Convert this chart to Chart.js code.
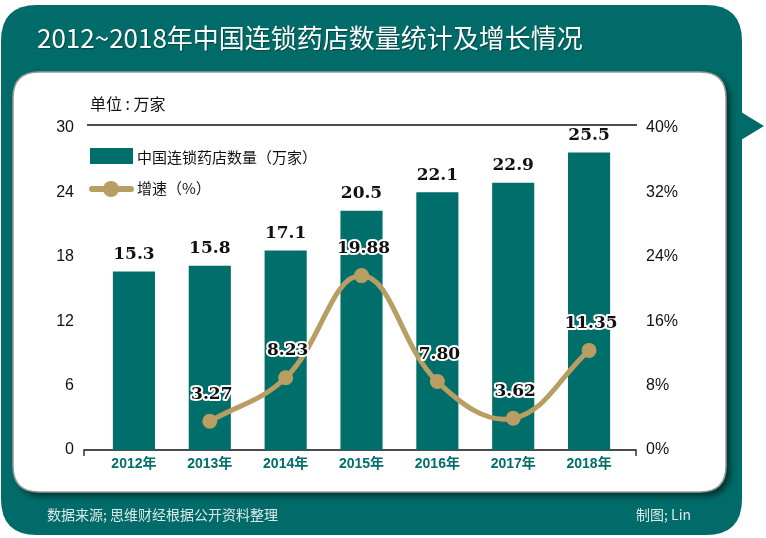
<!DOCTYPE html>
<html>
<head>
<meta charset="utf-8">
<script src="https://cdn.jsdelivr.net/npm/chart.js@4/dist/chart.umd.min.js"></script>
<style>
  html, body { margin: 0; padding: 0; background: #ffffff; }
  canvas { display: block; }
</style>
</head>
<body>
<canvas id="c" width="766" height="538"></canvas>
<script>
// ---- data ----
const titleText = "2012~2018年中国连锁药店数量统计及增长情况";
const unitText = "单位 : 万家";
const sourceText = "数据来源; 思维财经根据公开资料整理";
const creditText = "制图; Lin";
const categories = ["2012年", "2013年", "2014年", "2015年", "2016年", "2017年", "2018年"];
const storeCount = [15.3, 15.8, 17.1, 20.5, 22.1, 22.9, 25.5];
const storeLabels = ["15.3", "15.8", "17.1", "20.5", "22.1", "22.9", "25.5"];
const growthRate = [null, 3.27, 8.23, 19.88, 7.80, 3.62, 11.35];
const growthLabels = ["", "3.27", "8.23", "19.88", "7.80", "3.62", "11.35"];
const leftTicks = [0, 6, 12, 18, 24, 30];
const rightTicks = [0, 8, 16, 24, 32, 40];
const seriesNames = ["中国连锁药店数量（万家）", "增速（%）"];

const TEAL = "#006e6a";
const PANEL = "#006b68";
const GOLD = "#b99e63";
const CJK = "'Noto Sans CJK SC', 'Noto Sans', sans-serif";

function roundRect(ctx, x, y, w, h, r) {
  ctx.beginPath();
  ctx.moveTo(x + r, y);
  ctx.lineTo(x + w - r, y);
  ctx.quadraticCurveTo(x + w, y, x + w, y + r);
  ctx.lineTo(x + w, y + h - r);
  ctx.quadraticCurveTo(x + w, y + h, x + w - r, y + h);
  ctx.lineTo(x + r, y + h);
  ctx.quadraticCurveTo(x, y + h, x, y + h - r);
  ctx.lineTo(x, y + r);
  ctx.quadraticCurveTo(x, y, x + r, y);
  ctx.closePath();
}

const framePlugin = {
  id: 'frame',
  beforeDraw(chart) {
    const ctx = chart.ctx;
    ctx.save();
    ctx.fillStyle = '#ffffff';
    ctx.fillRect(0, 0, chart.width, chart.height);
    // teal panel
    ctx.fillStyle = PANEL;
    roundRect(ctx, 1, 5, 741, 530, 36);
    ctx.fill();
    // pointer triangle
    ctx.beginPath();
    ctx.moveTo(741, 112);
    ctx.lineTo(764, 126);
    ctx.lineTo(741, 140);
    ctx.closePath();
    ctx.fill();
    // title
    ctx.fillStyle = '#ffffff';
    ctx.font = "26px " + CJK;
    ctx.textBaseline = 'middle';
    ctx.textAlign = 'left';
    ctx.shadowColor = 'rgba(0,0,0,0.35)';
    ctx.shadowOffsetX = 1; ctx.shadowOffsetY = 1; ctx.shadowBlur = 1;
    ctx.fillText(titleText, 37, 38);
    ctx.shadowColor = 'transparent';
    // white box with shadow
    ctx.save();
    ctx.shadowColor = 'rgba(0,0,0,0.55)';
    ctx.shadowOffsetX = 4; ctx.shadowOffsetY = 4; ctx.shadowBlur = 6;
    ctx.fillStyle = '#ffffff';
    roundRect(ctx, 13, 72, 713, 420, 26);
    ctx.fill();
    ctx.restore();
    ctx.strokeStyle = '#9a9a9a';
    ctx.lineWidth = 1.5;
    roundRect(ctx, 13, 72, 713, 420, 26);
    ctx.stroke();
    // footer
    ctx.fillStyle = '#dce8e6';
    ctx.font = "14px " + CJK;
    ctx.textBaseline = 'middle';
    ctx.fillText(sourceText, 47, 515);
    ctx.fillText(creditText, 636, 515);
    ctx.restore();
  },
  beforeDatasetsDraw(chart) {
    const ctx = chart.ctx;
    const a = chart.chartArea;
    ctx.save();
    ctx.strokeStyle = '#111';
    ctx.lineWidth = 1.3;
    ctx.beginPath();
    ctx.moveTo(87, a.top - 3);
    ctx.lineTo(637, a.top - 3);
    ctx.stroke();
    ctx.beginPath();
    ctx.moveTo(84, a.bottom + 6);
    ctx.lineTo(84, a.bottom);
    ctx.lineTo(636, a.bottom);
    ctx.lineTo(636, a.bottom + 6);
    ctx.stroke();
    ctx.restore();
  },
  afterDraw(chart) {
    const ctx = chart.ctx;
    ctx.save();
    // unit label
    ctx.fillStyle = '#111';
    ctx.font = "16px " + CJK;
    ctx.textBaseline = 'middle';
    ctx.textAlign = 'left';
    ctx.fillText(unitText, 90, 104);
    // legend
    ctx.fillStyle = TEAL;
    ctx.fillRect(90, 148, 43, 16);
    ctx.strokeStyle = GOLD;
    ctx.lineWidth = 6;
    ctx.lineCap = 'round';
    ctx.beginPath();
    ctx.moveTo(92, 189);
    ctx.lineTo(131, 189);
    ctx.stroke();
    ctx.fillStyle = GOLD;
    ctx.beginPath();
    ctx.arc(111, 189, 8, 0, Math.PI * 2);
    ctx.fill();
    ctx.fillStyle = '#111';
    ctx.font = "15px " + CJK;
    ctx.fillText(chart.data.datasets[0].label, 137, 157);
    ctx.fillText(chart.data.datasets[1].label, 137, 188);
    // value labels
    ctx.font = "bold 17px 'DejaVu Serif', serif";
    ctx.textAlign = 'center';
    ctx.textBaseline = 'middle';
    ctx.lineJoin = 'round';
    const drawLabel = (txt, x, y) => {
      if (!txt) return;
      ctx.strokeStyle = '#ffffff';
      ctx.lineWidth = 4;
      ctx.strokeText(txt, x, y);
      ctx.fillStyle = '#111';
      ctx.fillText(txt, x, y);
    };
    const barMeta = chart.getDatasetMeta(0);
    barMeta.data.forEach((el, i) => drawLabel(storeLabels[i], el.x, el.y - 17));
    const lineMeta = chart.getDatasetMeta(1);
    lineMeta.data.forEach((el, i) => {
      if (growthRate[i] === null) return;
      drawLabel(growthLabels[i], el.x + 2, el.y - 27);
    });
    ctx.restore();
  }
};

new Chart(document.getElementById('c'), {
  data: {
    labels: categories,
    datasets: [
      {
        type: 'bar',
        label: seriesNames[0],
        data: storeCount,
        yAxisID: 'yBar',
        backgroundColor: TEAL,
        barPercentage: 0.555,
        categoryPercentage: 1.0,
        order: 1
      },
      {
        type: 'line',
        label: seriesNames[1],
        data: growthRate,
        yAxisID: 'yLine',
        borderColor: GOLD,
        backgroundColor: GOLD,
        borderWidth: 5,
        pointRadius: 7.5,
        pointHoverRadius: 7.5,
        pointBackgroundColor: GOLD,
        pointBorderWidth: 0,
        tension: 0.4,
        spanGaps: false,
        order: 0
      }
    ]
  },
  options: {
    responsive: false,
    animation: false,
    devicePixelRatio: 1,
    layout: { padding: { top: 128, left: 0, right: 0, bottom: 0 } },
    plugins: { legend: { display: false }, tooltip: { enabled: false } },
    scales: {
      x: {
        position: 'bottom',
        grid: { display: false, drawTicks: false },
        border: { display: false },
        ticks: { color: TEAL, padding: 6, font: { family: "'Liberation Sans', Arial, " + CJK, size: 14, weight: 'bold' } },
        afterFit(s) { s.height = 88; }
      },
      y: {
        position: 'left',
        min: 0, max: 30,
        afterBuildTicks(s) { s.ticks = leftTicks.map(v => ({ value: v })); },
        grid: { display: false, drawTicks: false },
        border: { display: false },
        ticks: { color: '#111', padding: 22, font: { family: "'Liberation Sans', Arial, sans-serif", size: 16 } },
        afterFit(s) { s.width = 96; }
      },
      y1: {
        position: 'right',
        min: 0, max: 40,
        afterBuildTicks(s) { s.ticks = rightTicks.map(v => ({ value: v })); },
        grid: { display: false, drawTicks: false },
        border: { display: false },
        ticks: { color: '#111', padding: 19, callback: v => v + '%', font: { family: "'Liberation Sans', Arial, sans-serif", size: 16 } },
        afterFit(s) { s.width = 139; }
      },
      yBar: { display: false, position: 'left', min: 0, max: 27.6 },
      yLine: { display: false, position: 'right', min: 0, max: 36.7 }
    }
  },
  plugins: [framePlugin]
});
</script>
</body>
</html>
